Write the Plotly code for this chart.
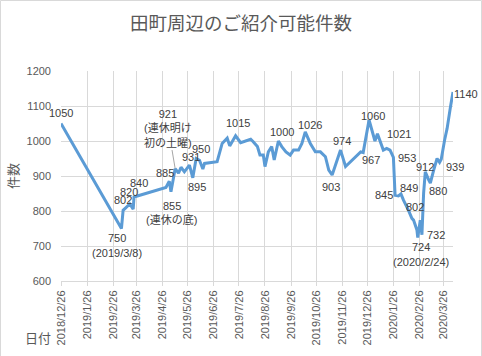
import plotly.graph_objects as go

# ---------------- data ----------------
dates = [
    "2018-12-26", "2019-03-08", "2019-03-10", "2019-03-14", "2019-03-18", "2019-03-22", "2019-03-23",
    "2019-04-30", "2019-05-04", "2019-05-06", "2019-05-11", "2019-05-15", "2019-05-18", "2019-05-22",
    "2019-05-28", "2019-06-01", "2019-06-05", "2019-06-09", "2019-06-13", "2019-06-15", "2019-06-30",
    "2019-07-06", "2019-07-12", "2019-07-15", "2019-07-22", "2019-07-28", "2019-08-09", "2019-08-12",
    "2019-08-17", "2019-08-20", "2019-08-24", "2019-08-26", "2019-08-30", "2019-09-03", "2019-09-06",
    "2019-09-11", "2019-09-15", "2019-09-20", "2019-09-25", "2019-09-29", "2019-10-05", "2019-10-09",
    "2019-10-13", "2019-10-19", "2019-10-25", "2019-10-31", "2019-11-06", "2019-11-10", "2019-11-14",
    "2019-11-24", "2019-11-30", "2019-12-18", "2019-12-21", "2019-12-28", "2020-01-02", "2020-01-04",
    "2020-01-07", "2020-01-10", "2020-01-14", "2020-01-18", "2020-01-22", "2020-01-26", "2020-01-28",
    "2020-02-01", "2020-02-04", "2020-02-07", "2020-02-09", "2020-02-13", "2020-02-17", "2020-02-19",
    "2020-02-23", "2020-02-24", "2020-02-27", "2020-02-29", "2020-03-02", "2020-03-04", "2020-03-08",
    "2020-03-10", "2020-03-14", "2020-03-18", "2020-03-21", "2020-03-23", "2020-03-27", "2020-03-30",
    "2020-04-03", "2020-04-05", "2020-04-06",
]
counts = [
    1050, 750, 802, 810, 820, 805, 840,
    867, 885, 855, 921, 908, 925, 912,
    931, 895, 950, 945, 920, 936, 941,
    993, 1008, 986, 1015, 995, 1005, 998,
    984, 960, 960, 927, 969, 984, 946,
    1000, 984, 969, 960, 974, 974, 993,
    1026, 993, 969, 969, 955, 917, 903,
    974, 927, 969, 967, 1060, 1020, 1000,
    1021, 1003, 974, 979, 974, 953, 845,
    843, 849, 831, 822, 802, 779, 774,
    746, 724, 774, 732, 851, 912, 889,
    880, 917, 950, 939, 948, 1003, 1036,
    1098, 1127, 1140,
]

# monthly tick dates (26th of each month)
tick_dates = [
    "2018-12-26", "2019-01-26", "2019-02-26", "2019-03-26", "2019-04-26", "2019-05-26",
    "2019-06-26", "2019-07-26", "2019-08-26", "2019-09-26", "2019-10-26", "2019-11-26",
    "2019-12-26", "2020-01-26", "2020-02-26", "2020-03-26",
]
tick_labels = [
    "2018/12/26", "2019/1/26", "2019/2/26", "2019/3/26", "2019/4/26", "2019/5/26",
    "2019/6/26", "2019/7/26", "2019/8/26", "2019/9/26", "2019/10/26", "2019/11/26",
    "2019/12/26", "2020/1/26", "2020/2/26", "2020/3/26",
]

# labelled points (dates) and their notes
label_dates = [
    "2018-12-26", "2019-03-08", "2019-03-10", "2019-03-18", "2019-03-23", "2019-05-04",
    "2019-05-06", "2019-05-28", "2019-06-05", "2019-06-01", "2019-07-22", "2019-09-11",
    "2019-10-13", "2019-11-14", "2019-11-24", "2019-12-21", "2019-12-28", "2020-01-07",
    "2020-01-26", "2020-01-28", "2020-02-04", "2020-02-13", "2020-02-24", "2020-02-29",
    "2020-03-04", "2020-03-10", "2020-03-21", "2020-04-06",
]
note_dates = ["2019-03-08", "2019-05-06", "2020-02-24"]
note_texts = ["(2019/3/8)", "(連休の底)", "(2020/2/24)"]
arrow_note_date = "2019-05-11"
arrow_note_text = "(連休明け<br>初の土曜)"

# ---------------- style / layout offsets (pixels) ----------------
label_offsets = [
    (0, -11), (-4, 9), (0, -10), (-1, -12), (5, -14), (-4.5, -8),
    (1, 14), (2, -8.5), (5, -10), (4.5, 9.5), (2.5, -13), (3.7, -9.3),
    (5, -7), (-1, 12), (1, -9.5), (8, 7), (3.7, -4), (21.5, 0),
    (14, 1), (-11.5, 0), (8, -6), (6.4, -3.6), (3.5, 9), (13.6, 0),
    (0, -5), (8, 7.7), (15.7, 4.3), (12.6, 2),
]
note_offsets = [(-4, 24), (1, 27.5), (3.5, 24.7)]
arrow_offset = (-6.8, -40.6)

value_of = dict(zip(dates, counts))

GRID = "#d9d9d9"
TXT = "#595959"
LBL = "#404040"
NUM_FONT = "Liberation Sans, Noto Sans CJK JP, sans-serif"
JP_FONT = "Noto Sans CJK JP, sans-serif"

fig = go.Figure()
fig.add_trace(go.Scatter(
    x=dates, y=counts, mode="lines",
    line=dict(color="#5b9bd5", width=3),
))

annotations = []
for d, (dx, dy) in zip(label_dates, label_offsets):
    annotations.append(dict(
        x=d, y=value_of[d], xref="x", yref="y", text=str(value_of[d]),
        showarrow=False, xshift=dx, yshift=-dy,
        font=dict(family=NUM_FONT, size=11, color=LBL),
    ))
for d, t, (dx, dy) in zip(note_dates, note_texts, note_offsets):
    annotations.append(dict(
        x=d, y=value_of[d], xref="x", yref="y", text=t,
        showarrow=False, xshift=dx, yshift=-dy,
        font=dict(family=NUM_FONT, size=11, color=LBL),
    ))
annotations.append(dict(
    x=arrow_note_date, y=value_of[arrow_note_date], xref="x", yref="y",
    text=str(value_of[arrow_note_date]) + "<br>" + arrow_note_text,
    showarrow=True, arrowhead=0, arrowwidth=1, arrowcolor="#a6a6a6",
    ax=arrow_offset[0], ay=arrow_offset[1], standoff=0,
    font=dict(family=NUM_FONT, size=11, color=LBL),
))

# axis titles
annotations.append(dict(
    text="件数", xref="paper", yref="paper", x=-0.125, y=0.5,
    xanchor="center", yanchor="middle",
    showarrow=False, textangle=-90,
    font=dict(family=JP_FONT, size=13, color=TXT),
))
annotations.append(dict(
    text="日付", xref="paper", yref="paper", x=-0.0587, y=-0.2667,
    xanchor="center", yanchor="middle",
    showarrow=False,
    font=dict(family=JP_FONT, size=13, color=TXT),
))

W, H = 482, 356
ML, MR, MT, MB = 61, 29, 71, 75
PW, PH = W - ML - MR, H - MT - MB

fig.update_layout(
    width=W, height=H,
    margin=dict(l=ML, r=MR, t=MT, b=MB, autoexpand=False),
    paper_bgcolor="white", plot_bgcolor="white",
    showlegend=False, hovermode=False,
    title=dict(
        text="田町周辺のご紹介可能件数", x=0.5, xanchor="center",
        y=1 - 24 / H, yanchor="middle", xref="container", yref="container",
        font=dict(family=JP_FONT, size=18.5, color=TXT),
    ),
    xaxis=dict(
        type="date", range=[dates[0], dates[-1]],
        tickmode="array", tickvals=tick_dates, ticktext=tick_labels,
        tickangle=-90, ticks="outside", ticklen=4, tickcolor=GRID,
        showgrid=True, gridcolor=GRID, gridwidth=1,
        showline=True, linecolor=GRID, linewidth=1,
        zeroline=False, automargin=False,
        tickfont=dict(family=NUM_FONT, size=11, color=TXT),
    ),
    yaxis=dict(
        range=[600, 1200], tickmode="linear", tick0=600, dtick=100,
        showgrid=True, gridcolor=GRID, gridwidth=1,
        zeroline=False, showline=False, ticks="", automargin=False,
        ticklabelstandoff=9,
        tickfont=dict(family=NUM_FONT, size=11, color=TXT),
    ),
    annotations=annotations,
    shapes=[dict(
        type="rect", xref="paper", yref="paper",
        x0=(0.5 - ML) / PW, x1=(W - 0.5 - ML) / PW,
        y0=(MB - (H - 0.5)) / PH + 0, y1=(H - MB - 0.5) / PH,
        line=dict(color=GRID, width=1), fillcolor="rgba(0,0,0,0)", layer="below",
    )],
)

fig.write_html(
    "out.html",
    config={"displayModeBar": False},
    post_script="document.body.style.margin='0';document.body.style.overflow='hidden';",
)
